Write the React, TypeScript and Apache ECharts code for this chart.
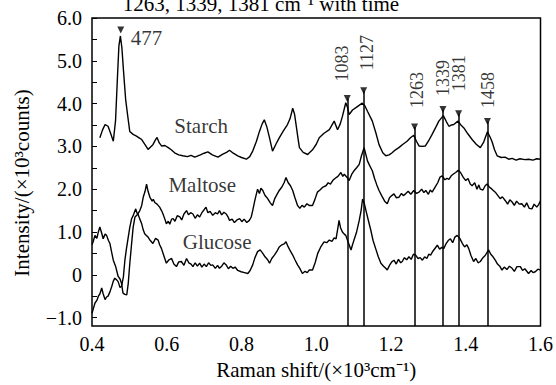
import React, { useEffect, useRef } from "react";
import * as echarts from "echarts";

// Raman shift (×10³ cm⁻¹), intensity (×10³ counts)
const STARCH: [number, number][] = [
  [0.421, 3.2], [0.428, 3.38], [0.435, 3.51], [0.443, 3.47], [0.45, 3.3], [0.457, 3.12], [0.463, 3.6],
  [0.468, 4.6], [0.472, 5.35], [0.476, 5.58], [0.48, 5.3], [0.484, 4.8], [0.49, 4.1], [0.495, 3.75],
  [0.501, 3.35], [0.51, 3.28], [0.519, 3.24], [0.526, 3.2], [0.533, 3.16], [0.541, 3.05], [0.55, 2.93],
  [0.556, 2.98], [0.563, 3.04], [0.569, 3.14], [0.574, 3.21], [0.58, 3.08], [0.586, 3.01], [0.595, 3.02],
  [0.604, 2.97], [0.612, 2.92], [0.621, 2.85], [0.632, 2.8], [0.643, 2.78], [0.655, 2.76], [0.665, 2.79],
  [0.675, 2.75], [0.69, 2.8], [0.7, 2.84], [0.71, 2.87], [0.722, 2.8], [0.737, 2.75], [0.75, 2.82],
  [0.76, 2.86], [0.768, 2.91], [0.778, 2.84], [0.79, 2.78], [0.8, 2.74], [0.813, 2.7], [0.822, 2.76],
  [0.83, 2.89], [0.84, 3.12], [0.848, 3.35], [0.855, 3.52], [0.861, 3.62], [0.868, 3.45], [0.875, 3.2],
  [0.883, 2.89], [0.892, 3.05], [0.901, 3.2], [0.912, 3.36], [0.923, 3.51], [0.93, 3.65], [0.937, 3.89],
  [0.942, 3.75], [0.946, 3.51], [0.951, 3.2], [0.955, 2.97], [0.965, 2.86], [0.977, 2.81], [0.99, 2.92],
  [1.0, 3.05], [1.008, 3.2], [1.02, 3.3], [1.035, 3.39], [1.048, 3.59], [1.057, 3.39], [1.064, 3.52],
  [1.07, 3.7], [1.079, 4.02], [1.084, 3.9], [1.088, 3.74], [1.097, 3.85], [1.11, 3.93], [1.123, 4.01],
  [1.13, 3.95], [1.137, 3.82], [1.15, 3.59], [1.16, 3.3], [1.168, 3.04], [1.178, 2.85], [1.186, 2.78],
  [1.195, 2.8], [1.203, 2.85], [1.212, 2.92], [1.221, 2.97], [1.232, 3.05], [1.243, 3.12], [1.252, 3.2],
  [1.261, 3.26], [1.268, 3.12], [1.275, 3.01], [1.283, 3.0], [1.292, 3.01], [1.3, 3.12], [1.31, 3.28],
  [1.32, 3.45], [1.328, 3.59], [1.34, 3.72], [1.348, 3.58], [1.355, 3.47], [1.362, 3.5], [1.368, 3.51],
  [1.379, 3.59], [1.387, 3.5], [1.395, 3.43], [1.405, 3.3], [1.417, 3.16], [1.428, 3.05], [1.439, 2.97],
  [1.448, 3.1], [1.458, 3.34], [1.465, 3.22], [1.47, 3.12], [1.477, 2.92], [1.484, 2.78], [1.495, 2.74],
  [1.505, 2.75], [1.515, 2.7], [1.524, 2.72], [1.535, 2.68], [1.545, 2.71], [1.558, 2.69], [1.568, 2.7],
  [1.58, 2.68], [1.59, 2.71], [1.6, 2.7],
];

const MALTOSE: [number, number][] = [
  [0.4, 0.7], [0.403, 0.77], [0.408, 0.92], [0.413, 0.85], [0.417, 1.0], [0.421, 1.12], [0.425, 1.0],
  [0.43, 0.84], [0.435, 0.95], [0.439, 0.92], [0.444, 0.8], [0.448, 0.73], [0.452, 0.55], [0.457, 0.34],
  [0.463, 0.2], [0.47, -0.04], [0.475, -0.1], [0.479, -0.2], [0.483, -0.43], [0.488, -0.46], [0.493, -0.47],
  [0.497, -0.2], [0.501, 0.25], [0.506, 0.73], [0.51, 1.1], [0.515, 1.35], [0.521, 1.4], [0.528, 1.5],
  [0.533, 1.62], [0.537, 1.81], [0.542, 1.95], [0.546, 2.12], [0.55, 1.95], [0.555, 1.81], [0.561, 1.72],
  [0.564, 1.76], [0.568, 1.69], [0.574, 1.65], [0.581, 1.58], [0.586, 1.5], [0.59, 1.42], [0.595, 1.3],
  [0.599, 1.19], [0.604, 1.25], [0.608, 1.18], [0.613, 1.3], [0.617, 1.31], [0.622, 1.25], [0.628, 1.38],
  [0.635, 1.35], [0.64, 1.28], [0.646, 1.42], [0.653, 1.5], [0.658, 1.4], [0.664, 1.45], [0.67, 1.42],
  [0.676, 1.32], [0.682, 1.4], [0.688, 1.35], [0.694, 1.45], [0.7, 1.52], [0.705, 1.58], [0.71, 1.45],
  [0.716, 1.48], [0.723, 1.39], [0.73, 1.45], [0.736, 1.42], [0.741, 1.5], [0.747, 1.4], [0.753, 1.46],
  [0.759, 1.42], [0.764, 1.35], [0.768, 1.27], [0.775, 1.3], [0.781, 1.22], [0.788, 1.28], [0.795, 1.31],
  [0.801, 1.24], [0.807, 1.3], [0.814, 1.22], [0.821, 1.27], [0.826, 1.35], [0.83, 1.5], [0.836, 1.75],
  [0.843, 2.0], [0.848, 1.9], [0.852, 2.02], [0.857, 1.97], [0.863, 1.85], [0.87, 1.78], [0.877, 1.68],
  [0.883, 1.62], [0.889, 1.78], [0.895, 1.88], [0.901, 1.97], [0.908, 2.05], [0.914, 2.15], [0.919, 2.27],
  [0.925, 2.15], [0.931, 2.08], [0.937, 1.97], [0.943, 1.8], [0.95, 1.62], [0.956, 1.55], [0.962, 1.62],
  [0.968, 1.58], [0.975, 1.66], [0.981, 1.62], [0.99, 1.62], [0.996, 1.75], [1.003, 1.93], [1.01, 1.98],
  [1.018, 2.05], [1.026, 2.08], [1.032, 2.15], [1.038, 2.12], [1.044, 2.2], [1.05, 2.25], [1.058, 2.3],
  [1.066, 2.39], [1.071, 2.3], [1.075, 2.35], [1.082, 2.28], [1.088, 2.2], [1.095, 2.35], [1.101, 2.43],
  [1.108, 2.5], [1.115, 2.58], [1.12, 2.75], [1.128, 2.97], [1.133, 2.8], [1.137, 2.66], [1.143, 2.55],
  [1.15, 2.43], [1.156, 2.25], [1.162, 2.1], [1.168, 1.97], [1.175, 1.85], [1.183, 1.72], [1.19, 1.66],
  [1.196, 1.8], [1.202, 1.85], [1.208, 1.89], [1.214, 1.8], [1.221, 1.81], [1.228, 1.9], [1.233, 1.85],
  [1.239, 1.89], [1.246, 1.95], [1.253, 1.88], [1.261, 1.97], [1.268, 1.9], [1.275, 1.93], [1.282, 2.0],
  [1.288, 1.92], [1.293, 1.97], [1.3, 1.88], [1.305, 1.98], [1.31, 1.93], [1.318, 2.05], [1.325, 2.15],
  [1.331, 2.28], [1.337, 2.31], [1.344, 2.22], [1.35, 2.25], [1.355, 2.23], [1.362, 2.32], [1.368, 2.36],
  [1.373, 2.39], [1.38, 2.44], [1.386, 2.39], [1.393, 2.28], [1.4, 2.2], [1.406, 2.25], [1.412, 2.12],
  [1.417, 2.08], [1.424, 2.15], [1.43, 2.0], [1.435, 2.1], [1.439, 2.0], [1.446, 1.98], [1.452, 2.08],
  [1.457, 2.12], [1.463, 2.05], [1.47, 2.0], [1.479, 1.93], [1.486, 1.85], [1.492, 1.78], [1.498, 1.82],
  [1.506, 1.73], [1.512, 1.65], [1.518, 1.75], [1.524, 1.7], [1.53, 1.62], [1.536, 1.72], [1.543, 1.65],
  [1.55, 1.66], [1.557, 1.58], [1.563, 1.68], [1.57, 1.55], [1.577, 1.54], [1.583, 1.65], [1.59, 1.58],
  [1.595, 1.64], [1.6, 1.73],
];

const GLUCOSE: [number, number][] = [
  [0.4, -0.9], [0.403, -0.81], [0.408, -0.66], [0.413, -0.6], [0.417, -0.5], [0.421, -0.45], [0.426, -0.31],
  [0.43, -0.45], [0.435, -0.58], [0.439, -0.52], [0.443, -0.5], [0.448, -0.4], [0.453, -0.27], [0.457, -0.15],
  [0.461, -0.08], [0.466, -0.12], [0.47, -0.16], [0.475, -0.3], [0.479, -0.27], [0.484, -0.05], [0.488, 0.34],
  [0.492, 0.6], [0.497, 0.88], [0.501, 1.1], [0.506, 1.31], [0.511, 1.4], [0.517, 1.54], [0.52, 1.45],
  [0.523, 1.42], [0.528, 1.3], [0.533, 1.19], [0.537, 1.05], [0.541, 0.96], [0.545, 0.92], [0.55, 0.88],
  [0.556, 0.8], [0.563, 0.73], [0.57, 0.85], [0.577, 0.81], [0.581, 0.7], [0.586, 0.61], [0.592, 0.45],
  [0.599, 0.27], [0.606, 0.35], [0.613, 0.38], [0.619, 0.25], [0.626, 0.19], [0.632, 0.3], [0.639, 0.31],
  [0.646, 0.22], [0.653, 0.38], [0.659, 0.28], [0.665, 0.25], [0.67, 0.19], [0.676, 0.28], [0.682, 0.2],
  [0.688, 0.27], [0.694, 0.18], [0.7, 0.25], [0.706, 0.19], [0.712, 0.28], [0.718, 0.22], [0.723, 0.23],
  [0.73, 0.15], [0.736, 0.22], [0.741, 0.15], [0.747, 0.2], [0.753, 0.28], [0.759, 0.23], [0.765, 0.14],
  [0.771, 0.2], [0.777, 0.15], [0.783, 0.18], [0.79, 0.1], [0.799, 0.07], [0.808, 0.05], [0.817, 0.03],
  [0.823, 0.1], [0.83, 0.23], [0.836, 0.4], [0.843, 0.54], [0.85, 0.58], [0.857, 0.5], [0.863, 0.42],
  [0.87, 0.35], [0.875, 0.27], [0.881, 0.38], [0.888, 0.46], [0.895, 0.55], [0.901, 0.65], [0.908, 0.7],
  [0.914, 0.72], [0.919, 0.77], [0.925, 0.65], [0.931, 0.55], [0.937, 0.46], [0.943, 0.35], [0.95, 0.23],
  [0.956, 0.15], [0.963, 0.03], [0.97, 0.08], [0.976, 0.05], [0.981, 0.11], [0.99, 0.11], [0.997, 0.28],
  [1.004, 0.5], [1.012, 0.65], [1.021, 0.77], [1.028, 0.75], [1.035, 0.81], [1.042, 0.78], [1.048, 0.86],
  [1.053, 0.84], [1.058, 1.1], [1.061, 1.27], [1.065, 1.1], [1.07, 1.0], [1.075, 0.95], [1.079, 0.92],
  [1.086, 0.75], [1.093, 0.58], [1.097, 0.7], [1.101, 0.81], [1.108, 1.0], [1.115, 1.27], [1.12, 1.5],
  [1.124, 1.77], [1.129, 1.65], [1.133, 1.5], [1.14, 1.25], [1.146, 1.04], [1.152, 0.8], [1.159, 0.61],
  [1.166, 0.42], [1.173, 0.27], [1.18, 0.2], [1.186, 0.15], [1.19, 0.11], [1.196, 0.22], [1.202, 0.3],
  [1.208, 0.34], [1.214, 0.25], [1.22, 0.36], [1.226, 0.28], [1.23, 0.31], [1.236, 0.4], [1.242, 0.35],
  [1.248, 0.42], [1.254, 0.36], [1.26, 0.48], [1.266, 0.46], [1.272, 0.38], [1.278, 0.4], [1.284, 0.34],
  [1.29, 0.42], [1.296, 0.38], [1.301, 0.48], [1.306, 0.46], [1.312, 0.55], [1.318, 0.62], [1.324, 0.69],
  [1.33, 0.6], [1.336, 0.64], [1.341, 0.61], [1.347, 0.72], [1.353, 0.8], [1.359, 0.84], [1.365, 0.75],
  [1.371, 0.88], [1.377, 0.92], [1.384, 0.85], [1.391, 0.73], [1.397, 0.65], [1.403, 0.7], [1.408, 0.61],
  [1.414, 0.45], [1.421, 0.31], [1.427, 0.38], [1.433, 0.28], [1.439, 0.31], [1.446, 0.4], [1.452, 0.45],
  [1.461, 0.58], [1.467, 0.48], [1.473, 0.42], [1.479, 0.34], [1.485, 0.25], [1.491, 0.2], [1.497, 0.11],
  [1.503, 0.18], [1.51, 0.12], [1.517, 0.2], [1.524, 0.15], [1.53, 0.08], [1.537, 0.19], [1.546, 0.19],
  [1.552, 0.1], [1.558, 0.14], [1.568, 0.03], [1.575, 0.1], [1.58, 0.05], [1.586, 0.07], [1.593, 0.13],
  [1.6, 0.11],
];

// Marked peaks (cm⁻¹) and the marker heights on the Starch spectrum
const PEAKS = [477, 1083, 1127, 1263, 1339, 1381, 1458];
const PEAK_MARK = [5.72, 4.12, 4.3, 3.45, 3.86, 3.76, 3.58];

// Spectrum names and where they sit
const NAMES = ["Starch", "Maltose", "Glucose"];
const NAME_X = [0.692, 0.695, 0.735];
const NAME_Y = [3.48, 2.09, 0.77];

const Y_LABELS = [-1, 0, 1, 2, 3, 4, 5, 6];
const Y_TICKS = [-1, -0.5, 0, 0.5, 1, 1.5, 2, 2.5, 3, 3.5, 4, 4.5, 5, 5.5, 6];

const TITLE_TEXT = "1263, 1339, 1381 cm\u207B\u00B9 with time";
const X_NAME = "Raman shift/(\u00D710\u00B3cm\u207B\u00B9)";
const Y_NAME = "Intensity/(\u00D710\u00B3counts)";

const FONT = '"Liberation Serif", "Times New Roman", serif';

// label placement styles for the peak annotations (px, relative to marker box)
const LABEL_STYLE: any[] = [
  { rotate: 0, position: [13.5, 11.5], fontSize: 21 },
  { rotate: 90, position: [-1.5, -13.5], fontSize: 18 },
  { rotate: 90, position: [6.5, -17], fontSize: 18 },
  { rotate: 90, position: [5.5, -15.5], fontSize: 18 },
  { rotate: 90, position: [3.5, -10], fontSize: 18 },
  { rotate: 90, position: [3.5, -19], fontSize: 18 },
  { rotate: 90, position: [4.5, -10], fontSize: 18 },
];

export default function App() {
  const ref = useRef<HTMLDivElement>(null);
  useEffect(() => {
    if (!ref.current) return;
    const chart = echarts.init(ref.current, undefined, { renderer: "svg" });
    const yMin = -1.2;
    const lineStyle = { color: "#000", width: 1.4 };
    const spectrum = (name: string, data: [number, number][]) => ({
      type: "line",
      name,
      data,
      symbol: "none",
      showSymbol: false,
      lineStyle,
      z: 3,
      silent: true,
    });
    const markerData = PEAKS.map((p, i) => ({
      value: [p / 1000, PEAK_MARK[i]],
      name: String(p),
      label: {
        show: true,
        formatter: String(p),
        rotate: LABEL_STYLE[i].rotate,
        position: LABEL_STYLE[i].position,
        align: "left",
        verticalAlign: "middle",
        color: "#000",
        textBorderWidth: 0,
        fontFamily: FONT,
        fontSize: LABEL_STYLE[i].fontSize,
      },
    }));
    const lines = PEAKS.slice(1).map((p, i) => [
      { coord: [p / 1000, PEAK_MARK[i + 1]] },
      { coord: [p / 1000, yMin] },
    ]);
    const option: any = {
      animation: false,
      grid: {
        left: 92,
        right: 14,
        top: 18,
        bottom: 55,
        show: true,
        borderColor: "#000",
        borderWidth: 1.5,
        backgroundColor: "transparent",
      },
      xAxis: {
        type: "value",
        min: 0.4,
        max: 1.6,
        interval: 0.2,
        axisLine: { show: false },
        axisTick: { show: false },
        splitLine: { show: false },
        axisLabel: {
          color: "#000",
          fontFamily: FONT,
          fontSize: 20,
          margin: 8,
          formatter: (v: number) => v.toFixed(1),
        },
        name: X_NAME,
        nameLocation: "middle",
        nameGap: 32,
        nameTextStyle: { color: "#000", fontFamily: FONT, fontSize: 21 },
      },
      yAxis: {
        type: "value",
        min: yMin,
        max: 6,
        axisLine: { show: false },
        splitLine: { show: false },
        axisTick: {
          show: true,
          inside: true,
          length: 5,
          customValues: Y_TICKS,
          lineStyle: { color: "#000", width: 1 },
        },
        axisLabel: {
          customValues: Y_LABELS,
          color: "#000",
          fontFamily: FONT,
          fontSize: 20,
          margin: 10,
          formatter: (v: number) =>
            v === 0 ? "0" : v < 0 ? "\u2212" + Math.abs(v).toFixed(1) : v.toFixed(1),
        },
      },
      graphic: [
        {
          type: "text",
          x: 261,
          y: 14,
          style: {
            text: TITLE_TEXT,
            fill: "#000",
            font: `21px ${FONT}`,
            align: "center",
            verticalAlign: "bottom",
          },
        },
        {
          type: "text",
          x: 22,
          y: 183,
          rotation: Math.PI / 2,
          style: {
            text: Y_NAME,
            fill: "#000",
            font: `21px ${FONT}`,
            align: "center",
            verticalAlign: "middle",
          },
        },
      ],
      series: [
        spectrum("Starch", STARCH),
        spectrum("Maltose", MALTOSE),
        spectrum("Glucose", GLUCOSE),
        {
          type: "scatter",
          name: "peaks",
          symbol: "triangle",
          symbolRotate: 180,
          symbolSize: 7,
          itemStyle: { color: "#000" },
          data: markerData,
          z: 4,
          silent: true,
          markLine: {
            silent: true,
            symbol: ["none", "none"],
            label: { show: false },
            lineStyle: { color: "#000", width: 1.5, type: "solid" },
            data: lines,
          },
        },
        {
          type: "scatter",
          name: "names",
          symbolSize: 1,
          itemStyle: { color: "transparent" },
          silent: true,
          data: NAMES.map((n, i) => ({ value: [NAME_X[i], NAME_Y[i]], name: n })),
          label: {
            show: true,
            position: "inside",
            formatter: "{b}",
            color: "#000",
            textBorderWidth: 0,
            fontFamily: FONT,
            fontSize: 21,
          },
        },
      ],
    };
    chart.setOption(option);
    return () => chart.dispose();
  }, []);
  return (
    <div
      ref={ref}
      style={{ position: "fixed", left: 0, top: 0, width: 556, height: 385, background: "#fff" }}
    />
  );
}
